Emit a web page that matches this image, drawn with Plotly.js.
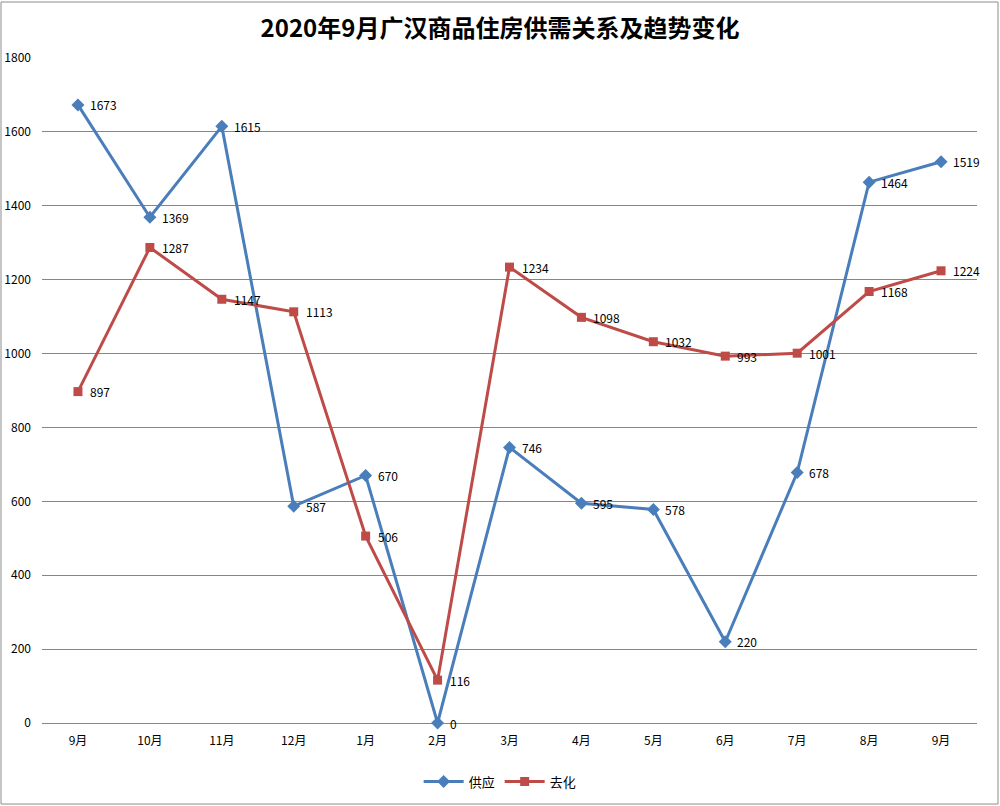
<!DOCTYPE html>
<html>
<head>
<meta charset="utf-8">
<script src="https://cdn.plot.ly/plotly-3.0.1.min.js"></script>
<style>html,body{margin:0;padding:0;background:#fff;}#chart{width:1000px;height:806px;}</style>
</head>
<body>
<div id="chart"></div>
<script>
const months = ["9月","10月","11月","12月","1月","2月","3月","4月","5月","6月","7月","8月","9月"];
const supply = [1673,1369,1615,587,670,0,746,595,578,220,678,1464,1519];
const sold = [897,1287,1147,1113,506,116,1234,1098,1032,993,1001,1168,1224];
const yTicks = [0,200,400,600,800,1000,1200,1400,1600,1800];

const idx = months.map((_, i) => i);
const font = "'Noto Sans CJK SC', 'DejaVu Sans', sans-serif";

const traces = [
  {
    x: idx, y: supply, name: "供应", type: "scatter", mode: "lines+markers",
    line: {color: "#4A7EBB", width: 3},
    marker: {symbol: "diamond", size: 10, color: "#4A7EBB"},
    cliponaxis: false
  },
  {
    x: idx, y: sold, name: "去化", type: "scatter", mode: "lines+markers",
    line: {color: "#BE4B48", width: 3},
    marker: {symbol: "square", size: 9, color: "#BE4B48"},
    cliponaxis: false
  }
];

function labels(vals) {
  return vals.map((v, i) => ({
    x: i, y: v, xref: "x", yref: "y", text: String(v), showarrow: false,
    xanchor: "left", yanchor: "middle", xshift: 10, yshift: 0,
    font: {family: font, size: 12, color: "#000"}
  }));
}

const L = 42, R = 23, T = 58, B = 83;
const pw = 1000 - L - R, ph = 806 - T - B;

const layout = {
  width: 1000, height: 806,
  margin: {l: L, r: R, t: T, b: B, autoexpand: false},
  paper_bgcolor: "#fff", plot_bgcolor: "#fff",
  title: {
    text: "<b>2020年9月广汉商品住房供需关系及趋势变化</b>",
    font: {family: font, size: 24, color: "#000"},
    x: 0.5, xanchor: "center", y: 0.965, yanchor: "middle"
  },
  xaxis: {
    range: [-0.5, 12.5], tickmode: "array", tickvals: idx, ticktext: months,
    showgrid: false, zeroline: false, showline: false, ticks: "",
    ticklabelstandoff: 9, automargin: false,
    tickfont: {family: font, size: 12, color: "#000"}, fixedrange: true
  },
  yaxis: {
    range: [0, 1800], tickmode: "array", tickvals: yTicks,
    showgrid: true, gridcolor: "#868686", gridwidth: 1,
    zeroline: true, zerolinecolor: "#868686", zerolinewidth: 1,
    showline: false, ticks: "", ticklabelstandoff: 10, automargin: false,
    tickfont: {family: font, size: 12, color: "#000"}, fixedrange: true
  },
  showlegend: true,
  legend: {
    orientation: "h", x: 0.49, xanchor: "center", y: -0.088, yanchor: "middle",
    font: {family: font, size: 13, color: "#000"}, itemwidth: 40, traceorder: "normal"
  },
  annotations: labels(supply).concat(labels(sold)),
  shapes: [{
    type: "rect", xref: "paper", yref: "paper",
    x0: (1 - L) / pw, x1: (998 - L) / pw,
    y0: (806 - B - 804) / ph, y1: (806 - B - 2) / ph,
    line: {color: "#8C8C8C", width: 1}, fillcolor: "rgba(0,0,0,0)", layer: "below"
  }]
};

Plotly.newPlot("chart", traces, layout, {displayModeBar: false, staticPlot: true});
</script>
</body>
</html>
